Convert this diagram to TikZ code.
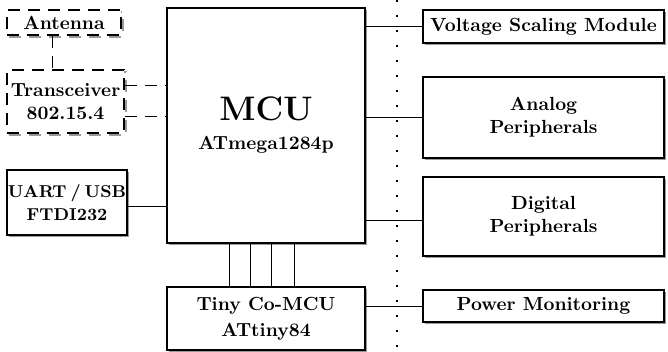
\documentclass[tikz,border=0pt]{standalone}
\usetikzlibrary{positioning, shadows, calc}
\begin{document}
\begin{tikzpicture}[x=0.5pt, y=-0.5pt, font=\fontsize{9.5}{11.5}\selectfont\bfseries,
  box/.style={draw, line width=0.8pt, fill=white, align=center, inner sep=1pt,
    drop shadow={shadow xshift=1pt, shadow yshift=-1pt, fill=gray!80, opacity=1}},
  dashbox/.style={draw, line width=0.8pt, fill=white, align=center, inner sep=1pt,
    dash pattern=on 6pt off 4pt,
    drop shadow={shadow xshift=1pt, shadow yshift=-1pt, fill=none, draw=gray!80,
      opacity=1, line width=0.8pt, dash pattern=on 6pt off 4pt}},
  link/.style={line width=0.5pt},
  dashlink/.style={line width=0.5pt, dash pattern=on 6pt off 4pt},
  sepline/.style={line width=1pt, dash pattern=on 1pt off 6.5pt}]
  \useasboundingbox (0,0) rectangle (668,352);

  % Trennlinie
  \coordinate (sepTop) at (397,0);
  \coordinate (sepBot) at (397,352);
  \draw[sepline] (sepTop) -- (sepBot);

  % Linke Seite
  \node[dashbox, minimum width=57pt, minimum height=12.5pt] (ant) at (64,22.5) {Antenna};
  \node[dashbox, minimum width=58.5pt, minimum height=31.5pt] (trx) at (65.5,101.5) {Transceiver\\802.15.4};
  \node[box, minimum width=59pt, minimum height=32.5pt, inner sep=0.5pt,
    font=\fontsize{8.6}{11.5}\selectfont\bfseries] (uart) at (67,202.5)
    {UART\hspace{2pt}/\hspace{2pt}USB\\FTDI232};

  % Mikrocontroller
  \node[box, minimum width=99pt, minimum height=117.5pt] (mcu) at (266,125.5)
    {{\fontsize{17}{20}\selectfont MCU}\\[3pt] ATmega1284p};
  \node[box, minimum width=99pt, minimum height=31.5pt] (tiny) at (266,318.5)
    {Tiny Co-MCU\\[1.5pt] ATtiny84};

  % Rechte Seite
  \node[box, minimum width=120.5pt, minimum height=16.5pt] (volt) at (543.5,26.5) {Voltage Scaling Module};
  \node[box, minimum width=120.5pt, minimum height=40.5pt] (analog) at (543.5,117.5) {Analog\\Peripherals};
  \node[box, minimum width=120.5pt, minimum height=39.5pt] (digital) at (543.5,216.5) {Digital\\Peripherals};
  \node[box, minimum width=120.5pt, minimum height=16pt] (power) at (543.5,306) {Power Monitoring};

  % Verbindungen
  \draw[dashlink] ([xshift=-6pt]ant.south) -- ([xshift=-6pt]ant.south |- trx.north);
  \draw[dashlink] ([yshift=7.75pt]trx.east) -- ([yshift=7.75pt]trx.east -| mcu.west);
  \draw[dashlink] ([yshift=-7.75pt]trx.east) -- ([yshift=-7.75pt]trx.east -| mcu.west);
  \draw[link] ([yshift=-2pt]uart.east) -- ([yshift=-2pt]uart.east -| mcu.west);
  \draw[link] (volt.west -| mcu.east) -- (volt.west);
  \draw[link] (analog.west -| mcu.east) -- (analog.west);
  \draw[link] ([yshift=-2pt]digital.west -| mcu.east) -- ([yshift=-2pt]digital.west);
  \draw[link] (power.west -| tiny.east) -- (power.west);
  \foreach \xx in {229,250,271,294} {
    \coordinate (bus) at (\xx,0);
    \draw[link] (bus |- mcu.south) -- (bus |- tiny.north);
  }
\end{tikzpicture}
\end{document}
